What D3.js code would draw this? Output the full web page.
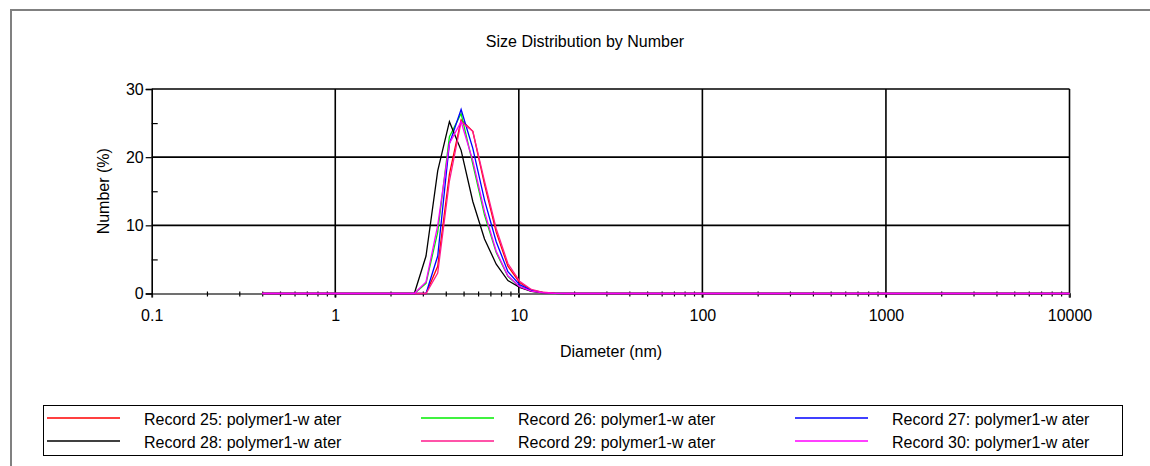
<html>
<head>
<title>Size Distribution by Number</title>
<style>
  body { margin: 0; background: #fff; }
  text { font-family: "Liberation Sans", Arial, sans-serif; fill: #000; }
</style>
</head>
<body>
<script src="https://d3js.org/d3.v7.min.js"></script>
<script>
// size classes (nm)
const sizes = [0.4, 0.4632, 0.5365, 0.6213, 0.7195, 0.8332, 0.9649, 1.117, 1.294, 1.499,
  1.736, 2.010, 2.328, 2.696, 3.122, 3.615, 4.187, 4.849, 5.615, 6.503,
  7.531, 8.721, 10.10, 11.70, 13.54, 15.69, 18.17, 21.04, 24.36, 28.21,
  32.67, 37.84, 43.82, 50.75, 58.77, 68.06, 78.82, 91.28, 105.7, 122.4,
  141.8, 164.2, 190.1, 220.2, 255.0, 295.3, 342.0, 396.1, 458.7, 531.2,
  615.1, 712.4, 825.0, 955.4, 1106, 1281, 1484, 1718, 1990, 2305,
  2669, 3091, 3580, 4145, 4801, 5560, 6439, 7456, 8635, 10000];

const record25 = [0,0,0,0,0,0,0,0,0,0, 0,0,0,0,0,4,17.5,25.5,23.8,16,
  9,4,1.6,0.5,0.15,0.04,0,0,0,0, 0,0,0,0,0,0,0,0,0,0, 0,0,0,0,0,0,0,0,0,0,
  0,0,0,0,0,0,0,0,0,0, 0,0,0,0,0,0,0,0,0,0];
const record26 = [0,0,0,0,0,0,0,0,0,0, 0,0,0,0,1.5,9,23,26.4,19,11.5,
  6,2.5,1.0,0.35,0.1,0.02,0,0,0,0, 0,0,0,0,0,0,0,0,0,0, 0,0,0,0,0,0,0,0,0,0,
  0,0,0,0,0,0,0,0,0,0, 0,0,0,0,0,0,0,0,0,0];
const record27 = [0,0,0,0,0,0,0,0,0,0, 0,0,0,0,0,5.5,22,27,21.3,13.7,
  7.6,3.2,1.3,0.45,0.12,0.03,0,0,0,0, 0,0,0,0,0,0,0,0,0,0, 0,0,0,0,0,0,0,0,0,0,
  0,0,0,0,0,0,0,0,0,0, 0,0,0,0,0,0,0,0,0,0];
const record28 = [0,0,0,0,0,0,0,0,0,0, 0,0,0,0,5.5,18,25.2,21,13.5,8,
  4.3,1.9,0.9,0.3,0.08,0.02,0,0,0,0, 0,0,0,0,0,0,0,0,0,0, 0,0,0,0,0,0,0,0,0,0,
  0,0,0,0,0,0,0,0,0,0, 0,0,0,0,0,0,0,0,0,0];
const record29 = [0,0,0,0,0,0,0,0,0,0, 0,0,0,0,0,3,16.5,25.2,23.8,16.5,
  9.5,4.4,1.8,0.6,0.18,0.05,0,0,0,0, 0,0,0,0,0,0,0,0,0,0, 0,0,0,0,0,0,0,0,0,0,
  0,0,0,0,0,0,0,0,0,0, 0,0,0,0,0,0,0,0,0,0];
const record30 = [0,0,0,0,0,0,0,0,0,0, 0,0,0,0,1.7,10,22,25.2,19.5,12,
  6.2,2.6,1.0,0.35,0.1,0.02,0,0,0,0, 0,0,0,0,0,0,0,0,0,0, 0,0,0,0,0,0,0,0,0,0,
  0,0,0,0,0,0,0,0,0,0, 0,0,0,0,0,0,0,0,0,0];

const seriesNames = ["Record 25: polymer1-w ater", "Record 26: polymer1-w ater", "Record 27: polymer1-w ater",
  "Record 28: polymer1-w ater", "Record 29: polymer1-w ater", "Record 30: polymer1-w ater"];
const seriesValues = [record25, record26, record27, record28, record29, record30];
const seriesColors = ["#ff0000", "#00ee00", "#0000ff", "#000000", "#ff1a8c", "#ff00ff"];

const xMajor = [0.1, 1, 10, 100, 1000, 10000];
const yMajor = [0, 10, 20, 30];
const yMinor = [5, 15, 25];

const width = 1150, height = 466;

const svg = d3.select("body").append("svg")
  .attr("width", width)
  .attr("height", height);

// outer frame
svg.append("rect")
  .attr("x", 11).attr("y", 10)
  .attr("width", 1160).attr("height", 470)
  .attr("fill", "none")
  .attr("stroke", "#808080")
  .attr("stroke-width", 2);

const x = d3.scaleLog().domain([0.1, 10000]).range([151.7, 1069.5]);
const y = d3.scaleLinear().domain([0, 30]).range([293.5, 89]);

// title
svg.append("text")
  .attr("x", 585).attr("y", 47)
  .attr("text-anchor", "middle")
  .attr("font-size", 16)
  .text("Size Distribution by Number");

// grid lines
const grid = svg.append("g").attr("stroke", "#000").attr("stroke-width", 1.6);
grid.selectAll("line.v")
  .data(xMajor.slice(1))
  .join("line")
  .attr("x1", d => x(d)).attr("x2", d => x(d))
  .attr("y1", y(30)).attr("y2", y(0) + 4);
grid.selectAll("line.h")
  .data(yMajor.slice(1))
  .join("line")
  .attr("x1", x(0.1)).attr("x2", x(10000))
  .attr("y1", d => y(d)).attr("y2", d => y(d));

// bottom axis: major labels + minor ticks
const xAxis = svg.append("g")
  .attr("transform", `translate(0,${y(0)})`)
  .call(d3.axisBottom(x).tickValues(xMajor).tickFormat(d3.format("~g")).tickSize(4).tickPadding(12));
xAxis.select(".domain").attr("stroke", "#707070").attr("stroke-width", 2);
xAxis.selectAll(".tick text").attr("font-size", 16).attr("font-family", "Liberation Sans, Arial, sans-serif").attr("fill", "#000");
xAxis.selectAll(".tick line").attr("stroke", "#000").attr("stroke-width", 1.2);

const minorX = x.ticks().filter(d => !xMajor.includes(d));
const xMinorAxis = svg.append("g")
  .attr("transform", `translate(0,${y(0)})`)
  .call(d3.axisBottom(x).tickValues(minorX).tickFormat("").tickSize(3));
xMinorAxis.select(".domain").remove();
xMinorAxis.selectAll(".tick line").attr("y1", -2).attr("stroke", "#000").attr("stroke-width", 1.2);

// left axis
const yAxis = svg.append("g")
  .attr("transform", `translate(${x(0.1)},0)`)
  .call(d3.axisLeft(y).tickValues(yMajor).tickSize(6).tickPadding(2));
yAxis.select(".domain").attr("stroke", "#000").attr("stroke-width", 1.6);
yAxis.selectAll(".tick text").attr("font-size", 16).attr("font-family", "Liberation Sans, Arial, sans-serif").attr("fill", "#000");
yAxis.selectAll(".tick line").attr("stroke", "#000").attr("stroke-width", 1.2);

const yMinorAxis = svg.append("g")
  .attr("transform", `translate(${x(0.1)},0)`)
  .call(d3.axisRight(y).tickValues(yMinor).tickFormat("").tickSize(6));
yMinorAxis.select(".domain").remove();
yMinorAxis.selectAll(".tick line").attr("stroke", "#000").attr("stroke-width", 1.2);

// axis titles
svg.append("text")
  .attr("x", 611).attr("y", 357)
  .attr("text-anchor", "middle")
  .attr("font-size", 16)
  .text("Diameter (nm)");
svg.append("text")
  .attr("transform", `translate(109,${(y(0) + y(30)) / 2}) rotate(-90)`)
  .attr("text-anchor", "middle")
  .attr("font-size", 16)
  .text("Number (%)");

// series lines
const line = d3.line()
  .x((d, i) => x(sizes[i]))
  .y(d => y(d));
svg.append("g")
  .selectAll("path")
  .data(seriesValues)
  .join("path")
  .attr("d", d => line(d))
  .attr("fill", "none")
  .attr("stroke", (d, i) => seriesColors[i])
  .attr("stroke-width", 1.3);

// legend
const legend = svg.append("g");
legend.append("rect")
  .attr("x", 43.5).attr("y", 405.5)
  .attr("width", 1079).attr("height", 50)
  .attr("fill", "#fff")
  .attr("stroke", "#000")
  .attr("stroke-width", 1);

const colX = [47, 421, 795];
const rowY = [418, 441];
const item = legend.selectAll("g.item")
  .data(seriesNames)
  .join("g")
  .attr("transform", (d, i) => `translate(${colX[i % 3]},${rowY[Math.floor(i / 3)]})`);
item.append("line")
  .attr("x1", 0).attr("x2", 73)
  .attr("y1", 0).attr("y2", 0)
  .attr("stroke", (d, i) => seriesColors[i])
  .attr("stroke-width", 1.5);
item.append("text")
  .attr("x", 97).attr("y", 7)
  .attr("font-size", 16)
  .text(d => d);
</script>
</body>
</html>
